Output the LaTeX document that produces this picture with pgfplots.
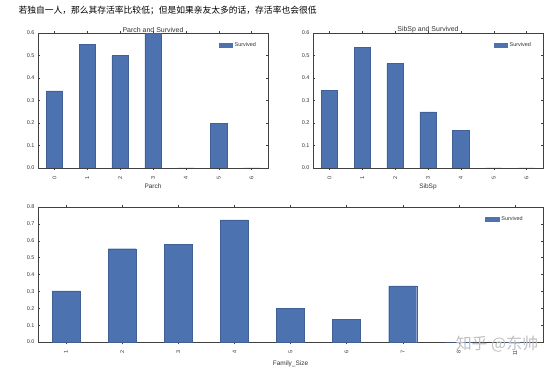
\documentclass[border=0pt]{standalone}
\usepackage{pgfplots}
\usepackage{pgfplotstable}
\pgfplotsset{compat=1.18}
\usepackage{fontspec}
\setmainfont{Liberation Sans}
\newfontfamily\cjk{Noto Sans CJK SC}
\definecolor{barblue}{HTML}{4C72B0}

\pgfplotstableread{
idx val
0 0.343
1 0.550
2 0.500
3 0.600
4 0.000
5 0.200
6 0.000
}\parch
\pgfplotstableread{
idx val
0 0.345
1 0.536
2 0.464
3 0.250
4 0.167
5 0.000
6 0.000
}\sibsp
\pgfplotstableread{
idx val
0 0.303
1 0.553
2 0.578
3 0.724
4 0.200
5 0.136
6 0.333
7 0.000
8 0.000
}\family

\pgfplotsset{
  mystyle/.style={
    scale only axis,
    anchor=south west,
    axis line style={black!75, line width=0.5pt},
    tick style={black!75, line width=0.4pt},
    major tick length=2.5pt,
    tick align=inside,
    xtick pos=both, ytick pos=both,
    ymin=0,
    xtick=data,
    tick label style={font=\fontsize{5.5}{6.5}\selectfont, text=black!80},
    xticklabel style={rotate=90, anchor=east},
    xticklabel shift=2pt,
    /pgf/number format/assume math mode=true,
    yticklabel style={/pgf/number format/.cd, fixed, fixed zerofill, precision=1},
    label style={font=\fontsize{6.5}{7.5}\selectfont, text=black!80},
    title style={font=\fontsize{7}{8}\selectfont, text=black!80, at={(0.5,1)}, anchor=south, yshift=-9pt},
    xlabel style={yshift=2pt},
    ybar, bar width=0.5,
    legend style={draw=none, fill=none, at={(0.97,0.96)}, anchor=north east,
      font=\fontsize{5.5}{6.5}\selectfont, text=black!80},
    legend image code/.code={\fill[barblue] (0cm,-0.07cm) rectangle (0.48cm,0.08cm);},
  }
}

\begin{document}
\begin{tikzpicture}
\path[use as bounding box] (0bp,0bp) rectangle (554bp,369bp);
\node[anchor=west, font=\cjk\fontsize{8.8}{10}\selectfont] at (15bp,359bp) {若独自一人，那么其存活率比较低；但是如果亲友太多的话，存活率也会很低};

\begin{axis}[mystyle, at={(38bp,201bp)}, width=230bp, height=135bp,
  xmin=-0.5, xmax=6.5, ymax=0.6, ytick={0,0.1,...,0.6},
  xticklabels={0,1,2,3,4,5,6},
  xlabel={Parch}, title={Parch and Survived}]
\addplot[fill=barblue, draw=barblue!85!black, line width=0.3pt] table[x=idx,y=val]{\parch};
\addlegendentry{Survived}
\end{axis}

\begin{axis}[mystyle, at={(313bp,201bp)}, width=230bp, height=135bp,
  xmin=-0.5, xmax=6.5, ymax=0.6, ytick={0,0.1,...,0.6},
  xticklabels={0,1,2,3,4,5,6},
  xlabel={SibSp}, title={SibSp and Survived}]
\addplot[fill=barblue, draw=barblue!85!black, line width=0.3pt] table[x=idx,y=val]{\sibsp};
\addlegendentry{Survived}
\end{axis}

\begin{axis}[mystyle, at={(38bp,27bp)}, width=505bp, height=135bp,
  xmin=-0.5, xmax=8.5, ymax=0.8, ytick={0,0.1,...,0.8},
  xticklabels={1,2,3,4,5,6,7,8,11},
  xlabel={Family\_Size}]
\addplot[fill=barblue, draw=barblue!85!black, line width=0.3pt] table[x=idx,y=val]{\family};
\addlegendentry{Survived}
\end{axis}

\node[anchor=center, font=\cjk\fontsize{16}{18}\selectfont, text=black!25] at (497bp,25bp) {知乎 @东帅};
\end{tikzpicture}
\end{document}
